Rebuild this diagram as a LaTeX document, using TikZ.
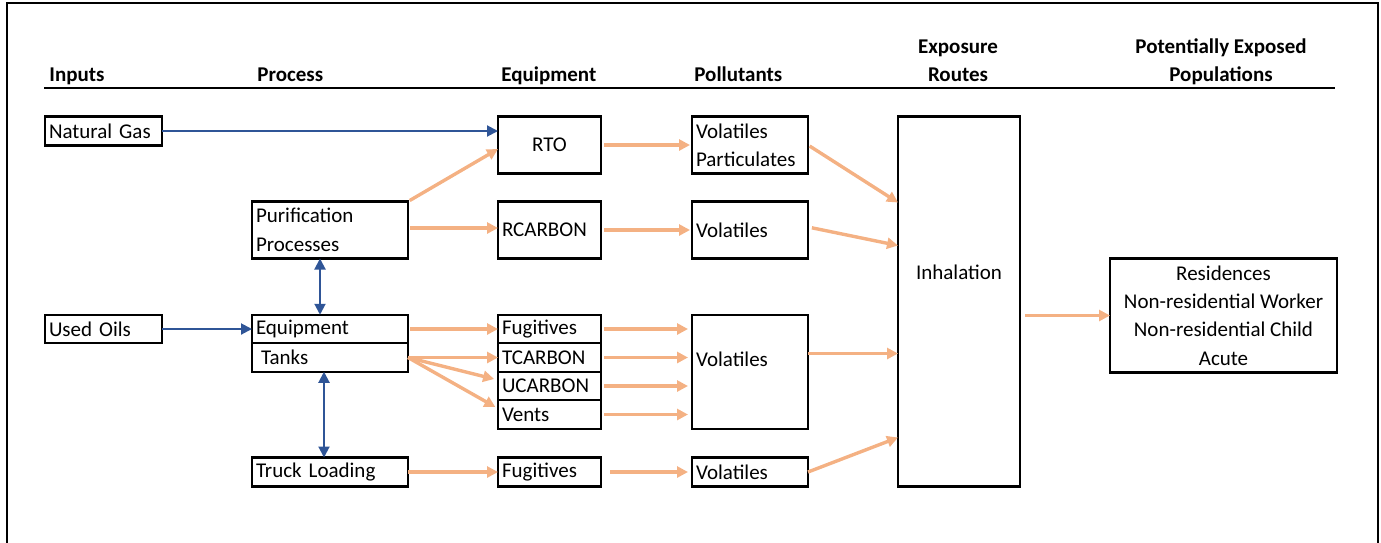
\documentclass[tikz,border=0pt]{standalone}
\usepackage{fontspec}
\setmainfont{Carlito}
\usetikzlibrary{arrows.meta}
\definecolor{flowblue}{HTML}{2F5597}
\definecolor{floworange}{HTML}{F4B183}

\begin{document}
\begin{tikzpicture}[x=0.5pt,y=-0.5pt,
  every node/.style={font=\fontsize{10.5}{14.2}\selectfont},
  head/.style={font=\fontsize{10.5}{13.6}\selectfont\bfseries, inner sep=0pt},
  box/.style={draw, line width=1.1pt, inner xsep=2pt, inner ysep=0pt, outer sep=0pt},
  lbox/.style={box, align=left, text width=#1},
  cbox/.style={box, align=center, minimum width=#1},
  feed/.style={draw=flowblue, line width=1pt, -{Triangle[length=5.5pt,width=5.5pt]}},
  twoway/.style={draw=flowblue, line width=1pt, {Triangle[length=5.5pt,width=5.5pt]}-{Triangle[length=5.5pt,width=5.5pt]}},
  flow/.style={draw=floworange, line width=1.7pt, -{Triangle[length=5.5pt,width=5.5pt]}}
]
\useasboundingbox (0,0) rectangle (1381,542);
\draw[line width=1pt] (6.5,560) -- (6.5,2.5) -- (1378,2.5) -- (1378,560);
\draw[line width=1pt] (44,88) -- (1335,88);

% column heads
\node[head, anchor=base west] (hin) at (49,81) {Inputs};
\node[head, anchor=base west] (hpr) at (257,81) {Process};
\node[head, anchor=base west] (heq) at (501,81) {Equipment};
\node[head, anchor=base west] (hpo) at (694,81) {Pollutants};
\node[head, anchor=base, align=center] (hex) at (958,81) {Exposure\\Routes};
\node[head, anchor=base, align=center] (hpp) at (1221,81) {Potentially Exposed\\Populations};

% inputs and process
\node[lbox=54.5pt, minimum height=14.5pt] (ng) at (103.5,131) {Natural Gas};
\node[lbox=54.5pt, minimum height=14.25pt] (uo) at (103.5,329) {Used Oils};
\node[lbox=74pt, minimum height=28.5pt] (pur) at (330,230) {Purification\\Processes};
\node[lbox=74pt, minimum height=14.25pt] (eq) at (330,329) {Equipment};
\node[lbox=74pt, minimum height=14.25pt] (tk) at (330,357.5) {\hspace{2.5pt}Tanks};
\node[lbox=74pt, minimum height=14.5pt] (tl) at (330,472) {Truck Loading};

% equipment
\node[cbox=51.5pt, minimum height=28.5pt] (rto) at (549.5,145) {RTO};
\node[lbox=47.5pt, minimum height=28.5pt] (rc) at (549.5,230) {RCARBON};
\node[lbox=47.5pt, minimum height=14.25pt] (fu) at (549.5,329) {Fugitives};
\node[lbox=47.5pt, minimum height=14.25pt] (tc) at (549.5,357.5) {TCARBON};
\node[lbox=47.5pt, minimum height=14.25pt] (uc) at (549.5,386) {UCARBON};
\node[lbox=47.5pt, minimum height=14.25pt] (ve) at (549.5,414.5) {Vents};
\node[lbox=47.5pt, minimum height=14.5pt] (fu2) at (549.5,472) {Fugitives};

% pollutants
\node[lbox=54pt, minimum height=28.5pt] (vp) at (750,145) {Volatiles\\Particulates};
\node[lbox=54pt, minimum height=28.5pt] (v2) at (750,230) {Volatiles};
\node[lbox=54pt, minimum height=57pt] (v3) at (750,372) {\raisebox{6.25pt}[\height][\depth]{Volatiles}};
\node[lbox=54pt, minimum height=14.5pt] (v4) at (750,472) {Volatiles};

% routes and populations
\node[cbox=61pt, minimum height=185pt] (inh) at (959,301.5) {\raisebox{14.5pt}[\height][\depth]{Inhalation}};
\node[cbox=113.5pt, minimum height=57pt] (pop) at (1223.5,315.5) {Residences\\Non-residential Worker\\Non-residential Child\\Acute};

% feeds
\draw[feed] (ng.east) -- (ng.east -| rto.west);
\draw[feed] (uo.east) -- (eq.west);
\draw[twoway] ([xshift=-5pt]pur.south) -- ([xshift=-5pt]eq.north);
\draw[twoway] ([xshift=-3pt]tk.south) -- ([xshift=-3pt]tl.north);

% releases
\draw[flow, shorten <=1pt] (pur.north east) -- ([yshift=-2pt]rto.west);
\draw[flow, shorten <=1pt] ([yshift=1pt]pur.east) -- ([yshift=1pt]pur.east -| rc.west);
\draw[flow, shorten <=1.5pt, shorten >=1pt] (rto.east) -- (rto.east -| vp.west);
\draw[flow, shorten <=1.5pt, shorten >=1pt] (rc.east) -- (v2.west);
\draw[flow, shorten <=1pt] (eq.east) -- (fu.west);
\draw[flow] (tk.east) -- (tc.west);
\draw[flow, shorten >=2pt] (tk.east) -- ([yshift=3pt]uc.west);
\draw[flow, shorten >=1.5pt] (tk.east) -- ([yshift=3pt]ve.west);
\draw[flow] (tl.east) -- (fu2.west);
\foreach \n in {fu,tc,uc,ve}
  \draw[flow, shorten <=1.5pt, shorten >=2pt] (\n.east) -- (\n.east -| v3.west);
\draw[flow, shorten <=4.5pt, shorten >=2pt] (fu2.east) -- (v4.west);
\draw[flow, shorten <=1pt] (vp.east) -- ([yshift=49.5pt]inh.west);
\draw[flow, shorten <=2pt] ([yshift=1.5pt]v2.east) -- ([yshift=28pt]inh.west);
\draw[flow] ([yshift=9.25pt]v3.east) -- ([yshift=9.25pt]v3.east -| inh.west);
\draw[flow] (v4.east) -- ([yshift=-68pt]inh.west);
\draw[flow, shorten <=2.5pt] (inh.east |- pop.west) -- (pop.west);

\end{tikzpicture}
\end{document}
